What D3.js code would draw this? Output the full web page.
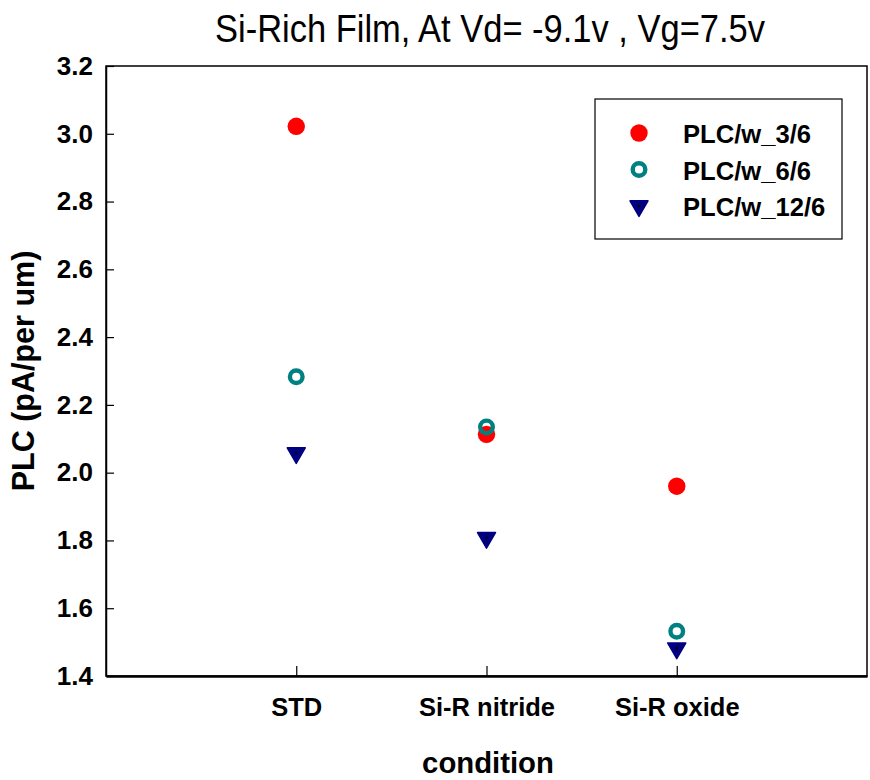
<!DOCTYPE html>
<html>
<head>
<meta charset="utf-8">
<script src="https://cdn.jsdelivr.net/npm/d3@7"></script>
<style>
  body { margin: 0; background: #fff; }
  text { font-family: "Liberation Sans", Arial, sans-serif; }
</style>
</head>
<body>
<div class="chart"></div>
<script>
// data
var conditions = ["STD", "Si-R nitride", "Si-R oxide"];
var seriesNames = ["PLC/w_3/6", "PLC/w_6/6", "PLC/w_12/6"];
var plc3 = [3.022, 2.113, 1.960];
var plc6 = [2.283, 2.135, 1.532];
var plc12 = [2.058, 1.808, 1.482];
var yTicks = [1.4, 1.6, 1.8, 2.0, 2.2, 2.4, 2.6, 2.8, 3.0, 3.2];

var svgWidth = 870;
var svgHeight = 780;
var margin = { top: 66, right: 3, bottom: 104, left: 106 };
var width = svgWidth - margin.left - margin.right;
var height = svgHeight - margin.top - margin.bottom;

var svg = d3.select(".chart")
  .append("svg")
  .attr("width", svgWidth)
  .attr("height", svgHeight);

var chartGroup = svg.append("g")
  .attr("transform", `translate(${margin.left}, ${margin.top})`);

// x is a point scale over the three conditions with a slot of padding each side
var xScale = d3.scalePoint()
  .domain(conditions)
  .range([0, width])
  .padding(1);

var yScale = d3.scaleLinear()
  .domain([1.4, 3.2])
  .range([height, 0]);

// frame
chartGroup.append("rect")
  .attr("width", width)
  .attr("height", height)
  .attr("fill", "none")
  .attr("stroke", "#000")
  .attr("stroke-width", 1.5);

// y axis, ticks pointing in
var leftAxis = d3.axisLeft(yScale)
  .tickValues(yTicks)
  .tickFormat(d3.format(".1f"))
  .tickSizeInner(-8)
  .tickSizeOuter(0)
  .tickPadding(13);

var yAxis = chartGroup.append("g").call(leftAxis);
yAxis.select(".domain").attr("stroke-width", 1.5);
yAxis.selectAll("line").attr("stroke-width", 1.2);
yAxis.selectAll("text")
  .attr("font-size", "26px")
  .attr("font-weight", "bold")
  .attr("fill", "#000")
  .attr("font-family", "Liberation Sans, Arial, sans-serif");

// x axis, ticks pointing in
var bottomAxis = d3.axisBottom(xScale)
  .tickSizeInner(-10)
  .tickSizeOuter(0)
  .tickPadding(22);

var xAxis = chartGroup.append("g")
  .attr("transform", `translate(0, ${height})`)
  .call(bottomAxis);
xAxis.select(".domain").attr("stroke-width", 2.5);
xAxis.selectAll("line").attr("stroke-width", 1.2);
xAxis.selectAll("text")
  .attr("font-size", "25.5px")
  .attr("font-weight", "bold")
  .attr("fill", "#000")
  .attr("font-family", "Liberation Sans, Arial, sans-serif");

// markers
var triangle = d3.symbol().type(d3.symbolTriangle).size(140);

function drawRed(g, x, y) {
  g.append("circle")
    .attr("cx", x).attr("cy", y).attr("r", 8.7)
    .attr("fill", "#ff0000");
}
function drawTeal(g, x, y) {
  g.append("circle")
    .attr("cx", x).attr("cy", y).attr("r", 6.3)
    .attr("fill", "none")
    .attr("stroke", "#008080")
    .attr("stroke-width", 4.4);
}
function drawNavy(g, x, y) {
  g.append("path")
    .attr("d", triangle)
    .attr("transform", `translate(${x}, ${y}) rotate(180)`)
    .attr("fill", "#000080")
    .attr("stroke", "#000080")
    .attr("stroke-width", 1.5)
    .attr("stroke-linejoin", "round");
  g.append("circle")
    .attr("cx", x).attr("cy", y).attr("r", 1.3)
    .attr("fill", "#000");
}

var points = chartGroup.append("g");
conditions.forEach(function (c, i) {
  drawNavy(points, xScale(c), yScale(plc12[i]));
  drawRed(points, xScale(c), yScale(plc3[i]));
  drawTeal(points, xScale(c), yScale(plc6[i]));
});

// legend
var legend = svg.append("g").attr("transform", "translate(595, 99)");
legend.append("rect")
  .attr("width", 247)
  .attr("height", 140)
  .attr("fill", "#fff")
  .attr("stroke", "#000")
  .attr("stroke-width", 1.2);

var drawers = [drawRed, drawTeal, drawNavy];
seriesNames.forEach(function (name, i) {
  var cy = 34 + i * 36.5;
  drawers[i](legend, 44, cy);
  legend.append("text")
    .attr("x", 88)
    .attr("y", cy + 10)
    .attr("font-size", "25.6px")
    .attr("font-weight", "bold")
    .text(name);
});

// title
svg.append("text")
  .attr("x", 490)
  .attr("y", 42)
  .attr("text-anchor", "middle")
  .attr("font-size", "38px")
  .attr("textLength", 550)
  .attr("lengthAdjust", "spacingAndGlyphs")
  .text("Si-Rich Film, At Vd= -9.1v , Vg=7.5v");

// axis titles
svg.append("text")
  .attr("x", 488)
  .attr("y", 773)
  .attr("text-anchor", "middle")
  .attr("font-size", "29.3px")
  .attr("font-weight", "bold")
  .text("condition");

svg.append("text")
  .attr("transform", "translate(34, 371) rotate(-90)")
  .attr("text-anchor", "middle")
  .attr("font-size", "30.5px")
  .attr("font-weight", "bold")
  .text("PLC (pA/per um)");
</script>
</body>
</html>
